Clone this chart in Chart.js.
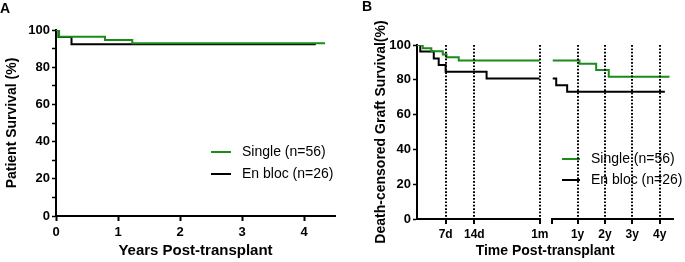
<!DOCTYPE html>
<html>
<head>
<meta charset="utf-8">
<script src="https://cdn.jsdelivr.net/npm/chart.js@4.4.1/dist/chart.umd.min.js"></script>
<style>
  html, body { margin: 0; padding: 0; background: #fff; }
  #wrap { position: relative; width: 685px; height: 262px; overflow: hidden;
          font-family: "Liberation Sans", Arial, sans-serif; }
  .panel { position: absolute; top: 0; height: 262px; }
  #boxA { left: 0; width: 345px; }
  #boxB { left: 345px; width: 340px; }
  .tag { position: absolute; font-weight: bold; font-size: 14px; line-height: 1; color: #000; }
</style>
</head>
<body>
<div id="wrap">
  <div class="panel" id="boxA"><canvas id="chartA"></canvas></div>
  <div class="panel" id="boxB"><canvas id="chartB"></canvas></div>
  <div class="tag" style="left:0px; top:1px;">A</div>
  <div class="tag" style="left:362px; top:-1px;">B</div>
</div>
<script>
// --- data ---
const seriesNames = ['Single (n=56)', 'En bloc (n=26)'];
const seriesColors = ['#1a8c1a', '#000000'];

// A : patient survival, x in years
const singleYearsA = [0, 0.05, 0.79, 1.23, 4.34];
const singleSurvA  = [100, 96.4, 94.6, 92.9, 92.9];
const enblocYearsA = [0, 0.04, 0.25, 4.19];
const enblocSurvA  = [100, 96.2, 92.3, 92.3];

// B : death-censored graft survival, first month (x in days)
const singleDaysB  = [0, 1.4, 3.5, 6.3, 7.2, 10.2, 30];
const singleSurvB1 = [100, 98.2, 96.4, 94.6, 92.9, 91.1, 91.1];
const enblocDaysB  = [0, 0.8, 4.1, 5.3, 7.0, 17, 30];
const enblocSurvB1 = [100, 96.2, 92.3, 88.5, 84.6, 80.8, 80.8];
// B : after the first month (x in years)
const singleYearsB = [1 / 12, 1.07, 1.68, 2.14, 4.36];
const singleSurvB2 = [91.1, 89.2, 85.7, 81.8, 81.8];
const enblocYearsB = [1 / 12, 0.22, 0.62, 4.19];
const enblocSurvB2 = [80.8, 76.9, 73.1, 73.1];

// ticks
const yTicks = [0, 10, 20, 30, 40, 50, 60, 70, 80, 90, 100];
const xTicksA = [0, 1, 2, 3, 4];
const dayTicks = [7, 14, 30];
const dayLabels = ['7d', '14d', '1m'];
const yearTicks = [1 / 12, 1, 2, 3, 4];
const yearLabels = ['', '1y', '2y', '3y', '4y'];

Chart.defaults.font.family = '"Liberation Sans", Arial, sans-serif';
Chart.defaults.color = '#000';

const pts = (xs, ys) => xs.map((x, i) => ({ x: x, y: ys[i] }));
const DOTS = [1.7, 1.7];

function kmLine(label, data, color, xAxisID) {
  return {
    label: label, data: data, xAxisID: xAxisID,
    borderColor: color, backgroundColor: color,
    borderWidth: 2, stepped: true, pointRadius: 0, fill: false
  };
}

// small legend drawn inside the plot, before the dotted lines
const kmLegend = {
  id: 'kmLegend',
  afterDatasetsDraw(chart, args, opts) {
    const ctx = chart.ctx;
    ctx.save();
    ctx.font = '14px "Liberation Sans", Arial, sans-serif';
    ctx.textBaseline = 'middle';
    seriesNames.forEach((name, i) => {
      const y = opts.y + i * opts.gap;
      ctx.strokeStyle = seriesColors[i];
      ctx.lineWidth = 2;
      ctx.beginPath();
      ctx.moveTo(opts.x, y);
      ctx.lineTo(opts.x + opts.len, y);
      ctx.stroke();
      ctx.fillStyle = '#000';
      ctx.fillText(name, opts.x + opts.len + opts.space, y);
    });
    ctx.restore();
  }
};

function yAxis(title, width) {
  return {
    type: 'linear', position: 'left', min: 0, max: 100,
    afterBuildTicks: s => { s.ticks = yTicks.map(v => ({ value: v })); },
    afterFit: s => { s.width = width; },
    grid: { drawOnChartArea: false, tickLength: 4, tickColor: '#000', tickWidth: 1.5 },
    border: { color: '#000', width: 2 },
    ticks: { color: '#000', padding: 2, font: { size: 13, weight: 'bold' },
             callback: v => (v % 20 === 0 ? v : '') },
    title: { display: true, text: title, color: '#000',
             font: { size: 14, weight: 'bold' }, padding: { top: 4, bottom: 0 } }
  };
}

// ---------- panel A ----------
new Chart(document.getElementById('chartA'), {
  type: 'line',
  data: {
    datasets: [
      kmLine(seriesNames[0], pts(singleYearsA, singleSurvA), seriesColors[0], 'x'),
      kmLine(seriesNames[1], pts(enblocYearsA, enblocSurvA), seriesColors[1], 'x')
    ]
  },
  options: {
    responsive: true, maintainAspectRatio: false, animation: false, events: [],
    layout: { padding: { left: 0, right: 10, top: 30, bottom: 0 } },
    plugins: {
      legend: { display: false }, tooltip: { enabled: false },
      kmLegend: { x: 211, y: 152, len: 20, space: 11, gap: 22 }
    },
    scales: {
      x: {
        type: 'linear', position: 'bottom', min: 0, max: 4.5,
        afterBuildTicks: s => { s.ticks = xTicksA.map(v => ({ value: v })); },
        afterFit: s => { s.height = 46; },
        grid: { drawOnChartArea: false, tickLength: 5, tickColor: '#000', tickWidth: 2 },
        border: { color: '#000', width: 2 },
        ticks: { color: '#000', padding: 4, maxRotation: 0, autoSkip: false,
                 font: { size: 13, weight: 'bold' } },
        title: { display: true, text: 'Years Post-transplant', color: '#000',
                 font: { size: 15, weight: 'bold' }, padding: { top: 0, bottom: 2 } }
      },
      y: yAxis('Patient Survival (%)', 56)
    }
  },
  plugins: [kmLegend]
});

// ---------- panel B (broken time axis: days | years) ----------
const dotColor = (first) => c => (c.tick && c.tick.value === first ? 'rgba(0,0,0,0)' : '#000');

new Chart(document.getElementById('chartB'), {
  type: 'line',
  data: {
    datasets: [
      kmLine(seriesNames[0], pts(singleDaysB, singleSurvB1), seriesColors[0], 'xL'),
      kmLine(seriesNames[0], pts(singleYearsB, singleSurvB2), seriesColors[0], 'xR'),
      kmLine(seriesNames[1], pts(enblocDaysB, enblocSurvB1), seriesColors[1], 'xL'),
      kmLine(seriesNames[1], pts(enblocYearsB, enblocSurvB2), seriesColors[1], 'xR')
    ]
  },
  options: {
    responsive: true, maintainAspectRatio: false, animation: false, events: [],
    layout: { padding: { left: 23.4, right: 5, top: 45, bottom: 0 } },
    plugins: {
      legend: { display: false }, tooltip: { enabled: false },
      kmLegend: { x: 217, y: 159, len: 18, space: 11, gap: 21 }
    },
    scales: {
      xL: {
        type: 'linear', axis: 'x', position: 'bottom', min: 0, max: 30,
        stack: 'time', stackWeight: 126, weight: 0,
        afterBuildTicks: s => { s.ticks = dayTicks.map(v => ({ value: v })); },
        afterFit: s => { s.height = 23; },
        grid: { z: 1, color: '#000', lineWidth: 2, borderDash: DOTS,
                tickLength: 5, tickColor: '#000', tickWidth: 2 },
        border: { z: 1, color: '#000', width: 2, dash: DOTS },
        ticks: { color: '#000', padding: 3, maxRotation: 0, autoSkip: false,
                 font: { size: 12, weight: 'bold' },
                 callback: (v, i) => dayLabels[i] }
      },
      xGap: {
        type: 'linear', axis: 'x', position: 'bottom', min: 0, max: 1,
        stack: 'time', stackWeight: 13, weight: 0,
        afterFit: s => { s.height = 23; },
        grid: { display: false }, border: { display: false }, ticks: { display: false }
      },
      xR: {
        type: 'linear', axis: 'x', position: 'bottom', min: 1 / 12, max: 4.5,
        stack: 'time', stackWeight: 124, weight: 0,
        afterBuildTicks: s => { s.ticks = yearTicks.map(v => ({ value: v })); },
        afterFit: s => { s.height = 23; },
        grid: { z: 1, color: dotColor(1 / 12), lineWidth: 2, borderDash: DOTS,
                tickLength: 5, tickColor: '#000', tickWidth: 2 },
        border: { z: 1, color: '#000', width: 2, dash: DOTS },
        ticks: { color: '#000', padding: 3, maxRotation: 0, autoSkip: false,
                 font: { size: 12, weight: 'bold' },
                 callback: (v, i) => yearLabels[i] }
      },
      xT: {
        type: 'linear', axis: 'x', position: 'bottom', min: 0, max: 1, weight: 1,
        afterFit: s => { s.height = 20; },
        grid: { display: false }, border: { display: false }, ticks: { display: false },
        title: { display: true, text: 'Time Post-transplant', color: '#000',
                 font: { size: 14, weight: 'bold' }, padding: { top: 0, bottom: 2 } }
      },
      y: yAxis('Death-censored Graft Survival(%)', 48.6)
    }
  },
  plugins: [kmLegend]
});
</script>
</body>
</html>
